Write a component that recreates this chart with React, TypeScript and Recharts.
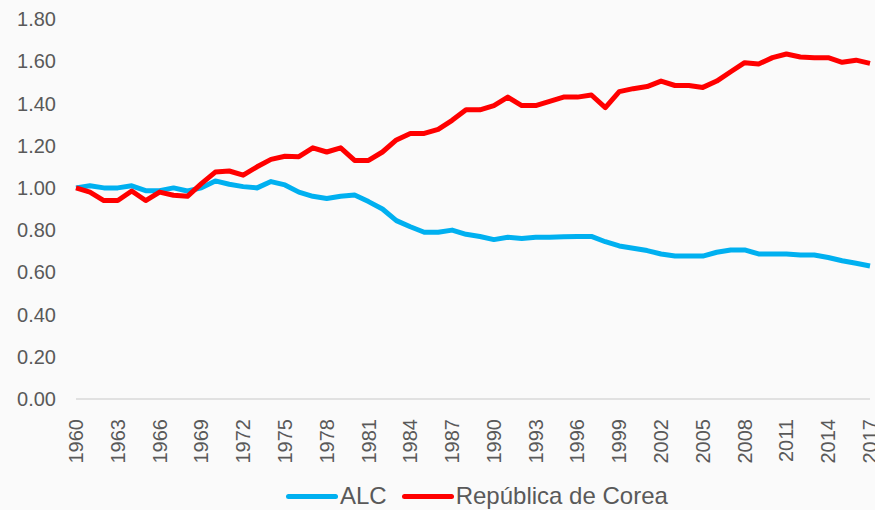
import { LineChart, Line, XAxis, YAxis } from "recharts";

const years = [
  "1960", "1961", "1962", "1963", "1964", "1965", "1966", "1967", "1968", "1969",
  "1970", "1971", "1972", "1973", "1974", "1975", "1976", "1977", "1978", "1979",
  "1980", "1981", "1982", "1983", "1984", "1985", "1986", "1987", "1988", "1989",
  "1990", "1991", "1992", "1993", "1994", "1995", "1996", "1997", "1998", "1999",
  "2000", "2001", "2002", "2003", "2004", "2005", "2006", "2007", "2008", "2009",
  "2010", "2011", "2012", "2013", "2014", "2015", "2016", "2017",
];

const alc = [
  1.0, 1.01, 1.0, 1.0, 1.01, 0.987, 0.987, 1.0, 0.985, 1.0,
  1.033, 1.017, 1.006, 1.0, 1.03, 1.014, 0.98, 0.96, 0.95, 0.96,
  0.966, 0.935, 0.9, 0.845, 0.816, 0.79, 0.79, 0.8, 0.78, 0.77,
  0.755, 0.766, 0.76, 0.766, 0.766, 0.768, 0.77, 0.77, 0.745, 0.725,
  0.714, 0.703, 0.687, 0.677, 0.677, 0.677, 0.695, 0.706, 0.706, 0.687,
  0.687, 0.687, 0.682, 0.682, 0.67, 0.655, 0.643, 0.63,
];

const corea = [
  1.0, 0.98, 0.94, 0.94, 0.985, 0.94, 0.98, 0.965, 0.96, 1.02,
  1.075, 1.08, 1.06, 1.1, 1.135, 1.15, 1.148, 1.19, 1.17, 1.19,
  1.13, 1.13, 1.17, 1.227, 1.258, 1.258, 1.277, 1.32, 1.37, 1.37,
  1.39, 1.43, 1.39, 1.39, 1.41, 1.43, 1.43, 1.44, 1.38, 1.456,
  1.47, 1.48, 1.506, 1.485, 1.485, 1.476, 1.506, 1.55, 1.593, 1.587,
  1.617, 1.634, 1.62, 1.617, 1.617, 1.595, 1.605, 1.59,
];

const yTicks = [0, 0.2, 0.4, 0.6, 0.8, 1.0, 1.2, 1.4, 1.6, 1.8];

const data = years.map((year, i) => ({ year, alc: alc[i], corea: corea[i] }));

const TEXT = "#595959";
const FONT = "'Liberation Sans', Arial, sans-serif";

function YearTick({ x, y, payload }: { x?: number; y?: number; payload?: { value: string } }) {
  return (
    <text
      x={0}
      y={0}
      dy="0.35em"
      textAnchor="end"
      fill={TEXT}
      fontSize={20}
      fontFamily={FONT}
      transform={`translate(${x}, ${(y ?? 0) + 12}) rotate(-90)`}
    >
      {payload?.value}
    </text>
  );
}

function LegendItem({ color, label }: { color: string; label: string }) {
  return (
    <div style={{ display: "flex", alignItems: "center" }}>
      <span style={{ width: 52, height: 5, borderRadius: 3, background: color, marginRight: 2 }} />
      <span>{label}</span>
    </div>
  );
}

export default function App() {
  return (
    <div style={{ position: "absolute", left: 0, top: 0, width: 875, height: 510, background: "#fafafa" }}>
      <LineChart width={875} height={510} data={data} margin={{ top: 19, right: 5, bottom: 41, left: 0 }}>
        <XAxis
          dataKey="year"
          interval={2}
          height={70}
          tick={<YearTick />}
          tickLine={false}
          axisLine={{ stroke: "#d9d9d9", strokeWidth: 1.5 }}
        />
        <YAxis
          width={76}
          domain={[0, 1.8]}
          ticks={yTicks}
          tickFormatter={(v: number) => v.toFixed(2)}
          tick={{ fill: TEXT, fontSize: 20, fontFamily: FONT }}
          tickSize={0}
          tickMargin={20}
          axisLine={false}
          tickLine={false}
        />
        <Line
          dataKey="alc"
          name="ALC"
          stroke="#00b0f0"
          strokeWidth={5}
          dot={false}
          type="linear"
          strokeLinejoin="round"
          isAnimationActive={false}
        />
        <Line
          dataKey="corea"
          name="República de Corea"
          stroke="#ff0000"
          strokeWidth={5}
          dot={false}
          type="linear"
          strokeLinejoin="round"
          isAnimationActive={false}
        />
      </LineChart>
      <div
        style={{
          position: "absolute",
          left: 286,
          top: 481,
          display: "flex",
          gap: 15,
          color: TEXT,
          fontSize: 24,
          fontFamily: FONT,
          lineHeight: "30px",
        }}
      >
        <LegendItem color="#00b0f0" label="ALC" />
        <LegendItem color="#ff0000" label="República de Corea" />
      </div>
    </div>
  );
}
